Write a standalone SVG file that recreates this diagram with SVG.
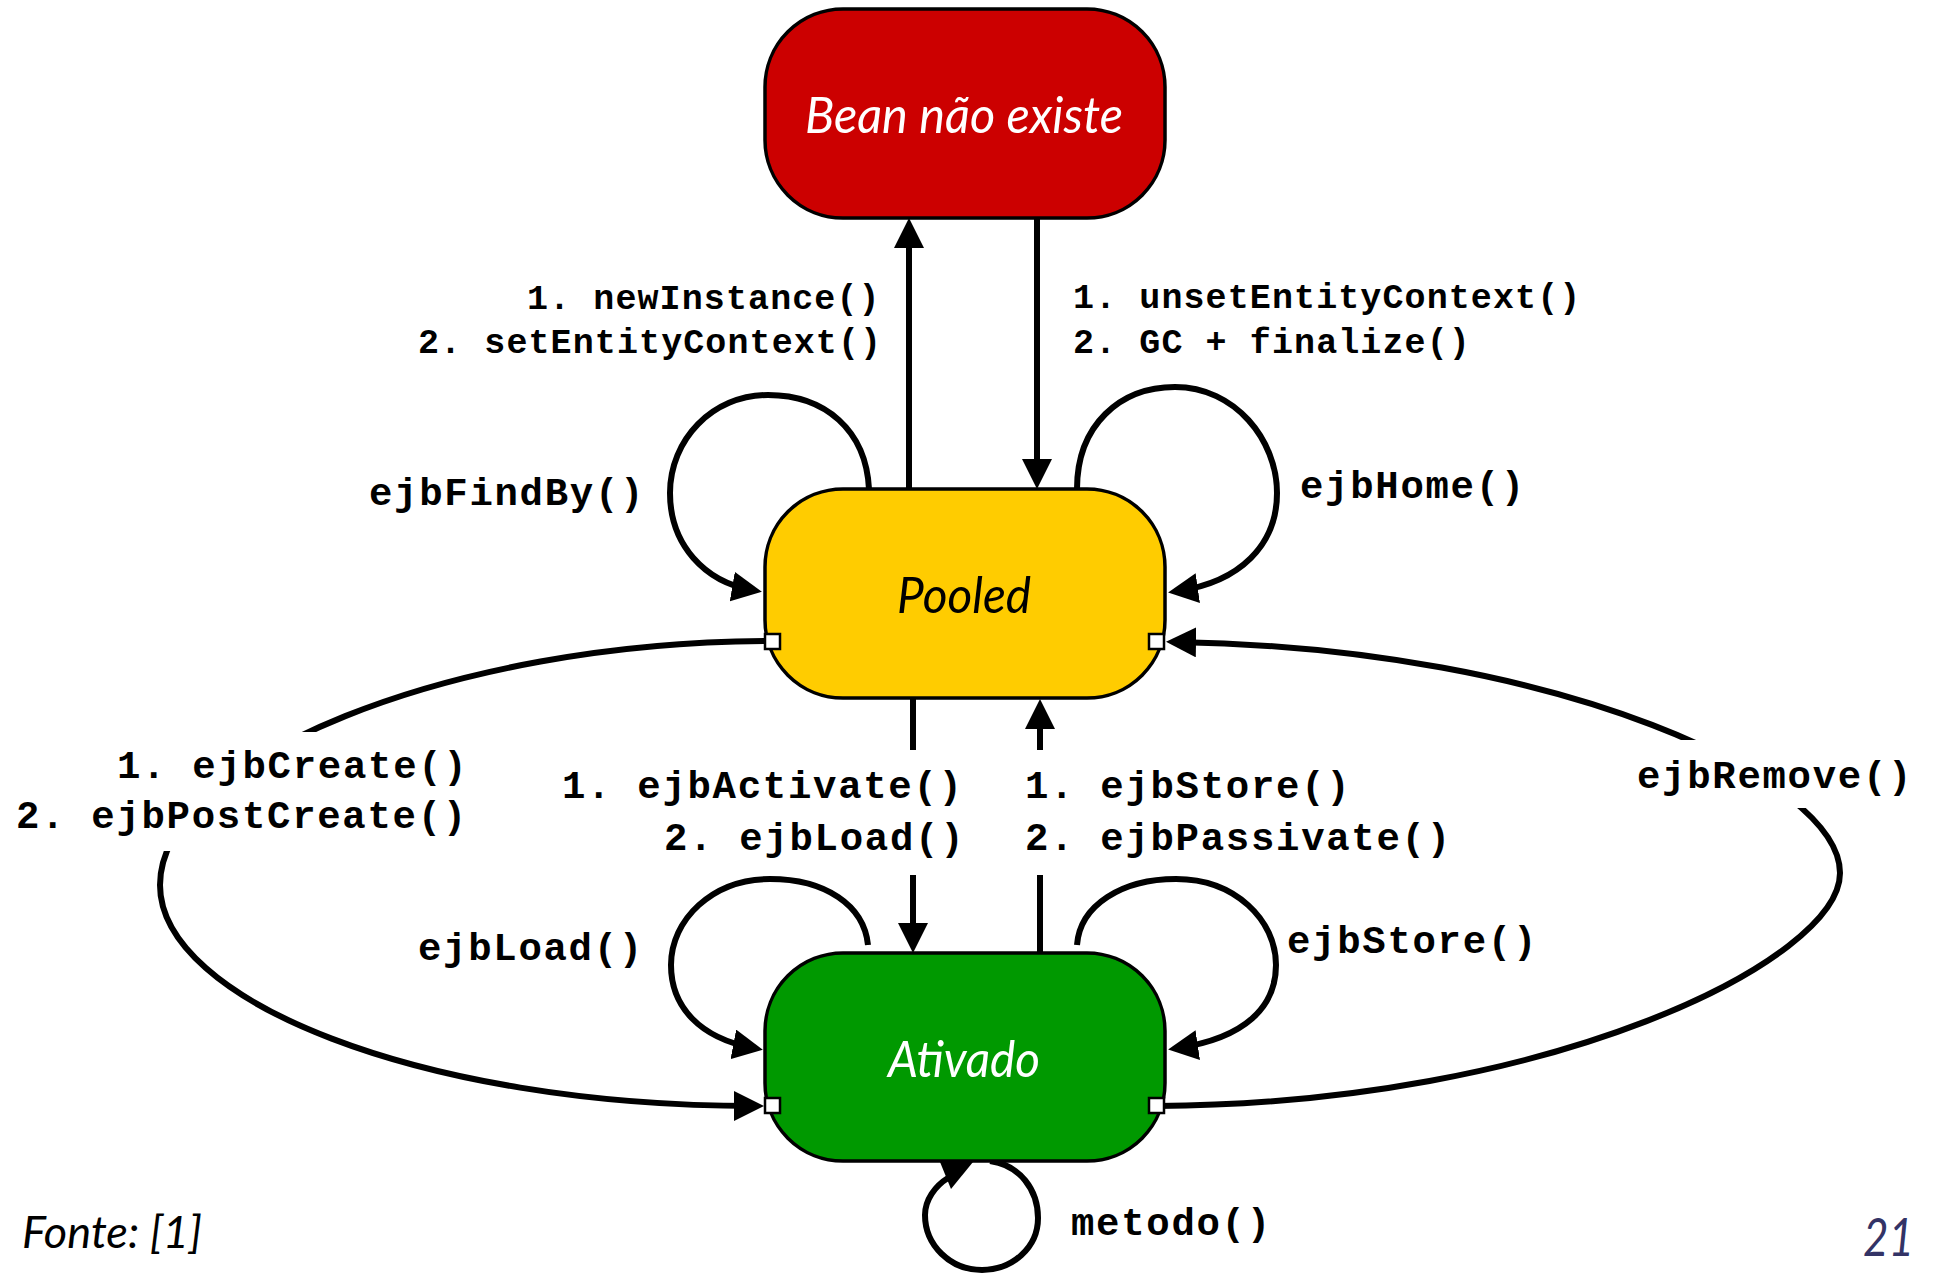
<svg xmlns="http://www.w3.org/2000/svg" width="1933" height="1273" viewBox="0 0 1933 1273">
<style>
.box{stroke:#000;stroke-width:3.5}
.conn{fill:none;stroke:#000;stroke-width:6}
.lbl{font-family:"Liberation Mono","Courier New",monospace;font-weight:bold;font-size:39px;letter-spacing:1.7px;fill:#000}
.sm{font-size:35px;letter-spacing:1.1px}
.ttl{font-family:Lato,"Open Sans",sans-serif;font-style:italic;font-size:50px}
.port{fill:#fff;stroke:#000;stroke-width:2.5}
.bg{fill:#fff}
</style>
<defs>
<marker id="ah" markerUnits="userSpaceOnUse" markerWidth="30" markerHeight="30" viewBox="0 0 30 30" refX="20" refY="15" orient="auto"><path d="M0,0 L30,15 L0,30 z" fill="#000"/></marker>
</defs>
<rect width="1933" height="1273" fill="#fff"/>
<g id="connectors">
<path class="conn" d="M909,489 L909,228" marker-end="url(#ah)"/>
<path class="conn" d="M1037,218 L1037,479" marker-end="url(#ah)"/>
<path class="conn" d="M913,698 L913,943" marker-end="url(#ah)"/>
<path class="conn" d="M1040,953 L1040,709" marker-end="url(#ah)"/>
<path class="conn" d="M869,489 C866,430 825,395 768,395 C712,395 670,440 670,493 C670,545 705,582 752,590" marker-end="url(#ah)"/>
<path class="conn" d="M1077,489 C1077,425 1120,387 1175,387 C1235,387 1277,440 1277,493 C1277,545 1240,582 1178,591" marker-end="url(#ah)"/>
<path class="conn" d="M868,945 C864,905 825,879 770,879 C712,879 671,920 671,965 C671,1007 700,1038 753,1048" marker-end="url(#ah)"/>
<path class="conn" d="M1077,945 C1080,905 1122,879 1176,879 C1235,879 1276,920 1276,965 C1276,1007 1245,1038 1178,1048" marker-end="url(#ah)"/>
<path class="conn" d="M772,641 C450,641 160,760 160,885 C160,1000 420,1106 754,1106" marker-end="url(#ah)"/>
<path class="conn" d="M1157,1106 C1550,1104 1840,960 1840,873 C1840,780 1560,648 1176,642" marker-end="url(#ah)"/>
<path class="conn" d="M990,1161 C1020,1165 1038,1190 1038,1218 C1038,1248 1012,1270 982,1270 C950,1270 925,1245 925,1215 C925,1200 935,1186 948,1178"/>
<polygon points="940,1162 973,1162 951,1189" fill="#000"/>
</g>
<g id="labels">
<rect class="bg" x="10" y="732" width="465" height="119"/>
<rect class="bg" x="555" y="750" width="415" height="125"/>
<rect class="bg" x="1020" y="750" width="440" height="125"/>
<rect class="bg" x="1630" y="740" width="290" height="68"/>
<text class="lbl sm" x="527" y="309">1. newInstance()</text>
<text class="lbl sm" x="418" y="353">2. setEntityContext()</text>
<text class="lbl sm" x="1073" y="308">1. unsetEntityContext()</text>
<text class="lbl sm" x="1073" y="353">2. GC + finalize()</text>
<text class="lbl" x="369" y="505">ejbFindBy()</text>
<text class="lbl" x="1300" y="498">ejbHome()</text>
<text class="lbl" x="117" y="778">1. ejbCreate()</text>
<text class="lbl" x="16" y="828">2. ejbPostCreate()</text>
<text class="lbl" x="562" y="798">1. ejbActivate()</text>
<text class="lbl" x="664" y="850">2. ejbLoad()</text>
<text class="lbl" x="1025" y="798">1. ejbStore()</text>
<text class="lbl" x="1025" y="850">2. ejbPassivate()</text>
<text class="lbl" x="418" y="960">ejbLoad()</text>
<text class="lbl" x="1287" y="953">ejbStore()</text>
<text class="lbl" x="1637" y="788">ejbRemove()</text>
<text class="lbl" x="1071" y="1235">metodo()</text>
</g>
<g id="node-bean">
<rect class="box" x="765" y="9" width="400" height="209" rx="78" ry="78" fill="#CC0000"/>
<text class="ttl" x="805" y="133" fill="#fff" textLength="318" lengthAdjust="spacingAndGlyphs">Bean não existe</text>
</g>
<g id="node-pooled">
<rect class="box" x="765" y="489" width="400" height="209" rx="78" ry="78" fill="#FFCC00"/>
<text class="ttl" x="897" y="613" fill="#000" textLength="134" lengthAdjust="spacingAndGlyphs">Pooled</text>
<rect class="port" x="765" y="634" width="15" height="15"/>
<rect class="port" x="1149" y="634" width="15" height="15"/>
</g>
<g id="node-ativado">
<rect class="box" x="765" y="953" width="400" height="208" rx="78" ry="78" fill="#009900"/>
<text class="ttl" x="888" y="1077" fill="#fff" textLength="152" lengthAdjust="spacingAndGlyphs">Ativado</text>
<rect class="port" x="765" y="1098" width="15" height="15"/>
<rect class="port" x="1149" y="1098" width="15" height="15"/>
</g>
<g id="footer">
<text class="ttl" x="22" y="1248" style="font-size:44px" fill="#000" textLength="180" lengthAdjust="spacingAndGlyphs">Fonte: [1]</text>
<text class="ttl" x="1863" y="1256" style="font-size:52px" fill="#333366" textLength="51" lengthAdjust="spacingAndGlyphs">21</text>
</g>
</svg>
